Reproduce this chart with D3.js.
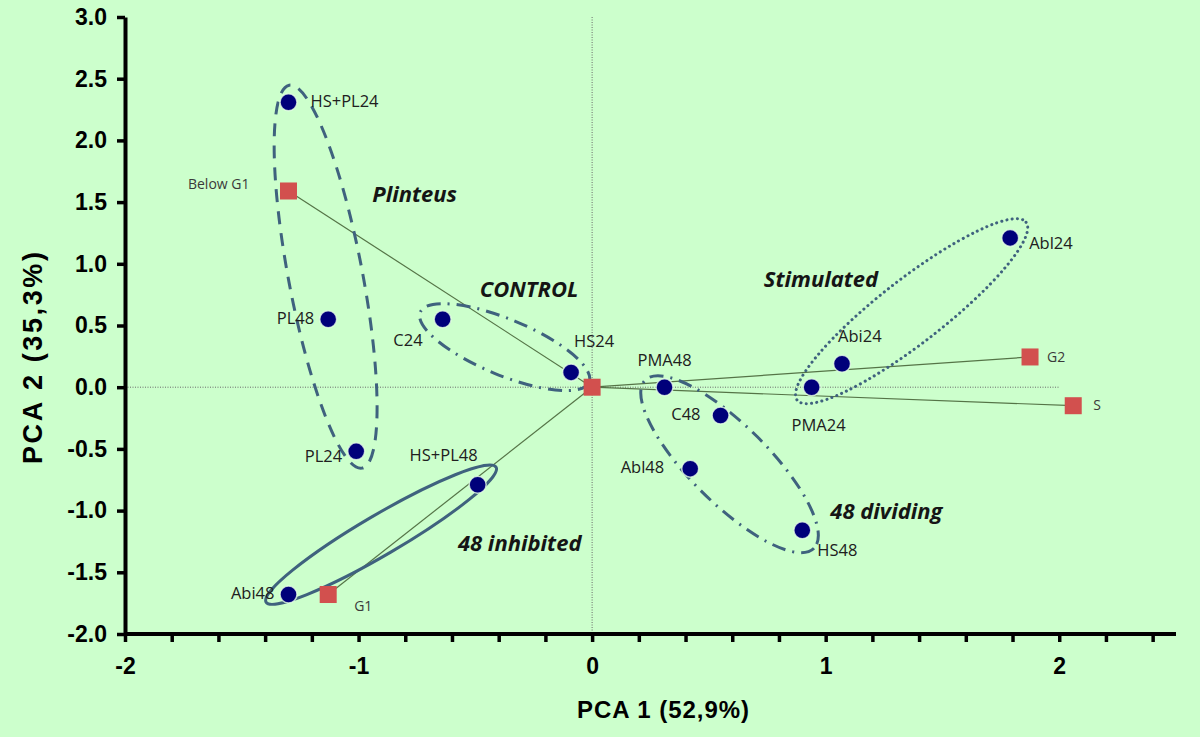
<!DOCTYPE html>
<html>
<head>
<meta charset="utf-8">
<script src="https://cdn.jsdelivr.net/npm/d3@7"></script>
<style>
  html, body { margin: 0; padding: 0; background: #ccffcc; }
  svg { display: block; }
</style>
</head>
<body>
<svg id="chart" width="1200" height="737"></svg>
<script>
// ---- data ----
const samples = ["HS+PL24","PL48","PL24","Abi48","C24","HS24","HS+PL48","PMA48","C48","Abl48","HS48","PMA24","Abi24","Abl24"];
const pc1 = [-1.30,-1.13,-1.01,-1.30,-0.64,-0.09,-0.49,0.31,0.55,0.42,0.90,0.94,1.07,1.79];
const pc2 = [2.31,0.55,-0.52,-1.68,0.55,0.12,-0.79,0.00,-0.23,-0.66,-1.16,0.00,0.19,1.21];

const variables = ["Below G1","G1","G2","S"];
const loadX = [-1.30,-1.13,1.875,2.06];
const loadY = [1.59,-1.68,0.245,-0.15];

const yTicks = [-2.0,-1.5,-1.0,-0.5,0.0,0.5,1.0,1.5,2.0,2.5,3.0];
const xTicks = [-2,-1.8,-1.6,-1.4,-1.2,-1,-0.8,-0.6,-0.4,-0.2,0,0.2,0.4,0.6,0.8,1,1.2,1.4,1.6,1.8,2,2.2,2.4];
const xLabels = [-2,-1,0,1,2];

const groupNames = ["Plinteus","CONTROL","48 inhibited","Stimulated","48 dividing"];
// group envelope: ends of the long axis in data units
const groupX1 = [-1.297,-0.736,-1.396,0.878,0.227];
const groupY1 = [2.447,0.608,-1.742,-0.105,0.057];
const groupX2 = [-0.985,-0.013,-0.411,1.858,0.950];
const groupY2 = [-0.656,0.041,-0.648,1.337,-1.305];

const xTitle = "PCA 1 (52,9%)";
const yTitle = "PCA 2 (35,3%)";

// ---- layout / style ----
const W = 1200, H = 737;
const x = d3.scaleLinear().domain([-2, 2.5]).range([125, 1176]);
const y = d3.scaleLinear().domain([-2, 3]).range([634, 17]);

const groupStyle = [
  {dash: "13,9", halfW: 37, cap: "butt", lx: -0.76, ly: 1.55},
  {dash: "14,7,2,7", halfW: 28, cap: "butt", lx: -0.27, ly: 0.78},
  {dash: null, halfW: 20, cap: "butt", lx: -0.31, ly: -1.28},
  {dash: "0.1,5.2", halfW: 32, cap: "round", lx: 0.98, ly: 0.86},
  {dash: "14,7,2,7", halfW: 39, cap: "butt", lx: 1.26, ly: -1.02}
];
// label placement for samples: [dx, dy, anchor]
const sampleLabelPos = {
  "HS+PL24": [22, 0, "start"], "PL48": [-14, 0, "end"], "PL24": [-14, 6, "end"],
  "Abi48": [-14, 0, "end"], "C24": [-20, 22, "end"], "HS24": [3, -30, "start"],
  "HS+PL48": [0, -28, "end"], "PMA48": [-27, -26, "start"], "C48": [-20, 0, "end"],
  "Abl48": [-26, 0, "end"], "HS48": [15, 21, "start"], "PMA24": [34, 39, "end"],
  "Abi24": [-4, -26, "start"], "Abl24": [19, 7, "start"]
};
const varLabelPos = {
  "Below G1": [-39, -6, "end"], "G1": [26, 13, "start"], "G2": [17, 1, "start"], "S": [20, 1, "start"]
};

const svg = d3.select("#chart");
svg.append("rect").attr("width", W).attr("height", H).attr("fill", "#ccffcc");

// reference lines
svg.append("line")
  .attr("x1", x(0)).attr("x2", x(0)).attr("y1", y(3)).attr("y2", y(-2))
  .attr("stroke", "#6a6a6a").attr("stroke-width", 1).attr("stroke-dasharray", "1,1.5");
svg.append("line")
  .attr("x1", x(-2)).attr("x2", x(2)).attr("y1", y(0)).attr("y2", y(0))
  .attr("stroke", "#6a6a6a").attr("stroke-width", 1).attr("stroke-dasharray", "1,1.5");

// vectors from origin
const vars = variables.map((v, i) => ({name: v, x: loadX[i], y: loadY[i]}));
svg.append("g").selectAll("line").data(vars).join("line")
  .attr("x1", x(0)).attr("y1", y(0))
  .attr("x2", d => x(d.x)).attr("y2", d => y(d.y))
  .attr("stroke", "#557447").attr("stroke-width", 1.2);

// group envelopes
const groups = groupNames.map((g, i) => ({name: g, x1: groupX1[i], y1: groupY1[i], x2: groupX2[i], y2: groupY2[i], st: groupStyle[i]}));
const eg = svg.append("g");
groups.forEach(g => {
  const px1 = x(g.x1), py1 = y(g.y1), px2 = x(g.x2), py2 = y(g.y2);
  const cx = (px1 + px2) / 2, cy = (py1 + py2) / 2;
  const a = Math.hypot(px2 - px1, py2 - py1) / 2;
  const ang = Math.atan2(py2 - py1, px2 - px1) * 180 / Math.PI;
  const e = eg.append("ellipse")
    .attr("cx", 0).attr("cy", 0).attr("rx", a).attr("ry", g.st.halfW)
    .attr("transform", `translate(${cx},${cy}) rotate(${ang})`)
    .attr("fill", "none").attr("stroke", "#3f627e")
    .attr("stroke-width", 3).attr("stroke-linecap", g.st.cap);
  if (g.st.dash) e.attr("stroke-dasharray", g.st.dash);
});

// group labels
svg.append("g").selectAll("text").data(groups).join("text")
  .attr("x", d => x(d.st.lx)).attr("y", d => y(d.st.ly))
  .attr("text-anchor", "middle").attr("dominant-baseline", "middle")
  .attr("font-family", "'Open Sans', sans-serif").attr("font-weight", "bold")
  .attr("font-style", "italic").attr("font-size", 22).attr("fill", "#151515")
  .text(d => d.name);

// axes
const yAxis = d3.axisLeft(y).tickValues(yTicks).tickFormat(d => d.toFixed(1)).tickSize(8).tickSizeOuter(0).tickPadding(10);
const gy = svg.append("g").attr("transform", `translate(${x(-2)},0)`).call(yAxis);
const xAxis = d3.axisBottom(x).tickValues(xTicks)
  .tickFormat(d => xLabels.some(v => Math.abs(v - d) < 1e-9) ? String(d) : "")
  .tickSize(8).tickSizeOuter(0).tickPadding(16);
const gx = svg.append("g").attr("transform", `translate(0,${y(-2)})`).call(xAxis);
gx.select(".domain").attr("d", `M${x(-2)},0H${x(2.5)}`);
[gx, gy].forEach(g => {
  g.select(".domain").attr("stroke", "#000").attr("stroke-width", 4);
  g.selectAll(".tick line").attr("stroke", "#000").attr("stroke-width", 3.5);
  g.selectAll(".tick text").attr("font-family", "'Liberation Sans', Arial, sans-serif")
    .attr("font-weight", "bold").attr("font-size", 23).attr("fill", "#000");
});

// axis titles
svg.append("text").attr("x", 663).attr("y", 718).attr("text-anchor", "middle")
  .attr("font-family", "'Liberation Sans', Arial, sans-serif").attr("font-weight", "bold")
  .attr("font-size", 24).attr("textLength", 172).attr("lengthAdjust", "spacing").attr("fill", "#000")
  .text(xTitle);
svg.append("text").attr("transform", "translate(42,358) rotate(-90)").attr("text-anchor", "middle")
  .attr("font-family", "'Liberation Sans', Arial, sans-serif").attr("font-weight", "bold")
  .attr("font-size", 27).attr("textLength", 212).attr("lengthAdjust", "spacing").attr("fill", "#000")
  .text(yTitle);

// variable squares (origin + loadings)
const sq = 17;
svg.append("rect").attr("x", x(0) - sq/2).attr("y", y(0) - sq/2).attr("width", sq).attr("height", sq)
  .attr("fill", "#d2504e");
svg.append("g").selectAll("rect").data(vars).join("rect")
  .attr("x", d => x(d.x) - sq/2).attr("y", d => y(d.y) - sq/2)
  .attr("width", sq).attr("height", sq).attr("fill", "#d2504e");
svg.append("g").selectAll("text").data(vars).join("text")
  .attr("x", d => x(d.x) + varLabelPos[d.name][0]).attr("y", d => y(d.y) + varLabelPos[d.name][1])
  .attr("text-anchor", d => varLabelPos[d.name][2]).attr("dominant-baseline", "middle")
  .attr("font-family", "'Open Sans', sans-serif").attr("font-size", 14).attr("fill", "#3a3a3a")
  .text(d => d.name);

// sample points
const pts = samples.map((s, i) => ({name: s, x: pc1[i], y: pc2[i]}));
svg.append("g").selectAll("circle").data(pts).join("circle")
  .attr("cx", d => x(d.x)).attr("cy", d => y(d.y)).attr("r", 8.5)
  .attr("fill", "#00007a").attr("stroke", "#e6ffe6").attr("stroke-width", 1.5).attr("stroke-opacity", 0.8);
svg.append("g").selectAll("text").data(pts).join("text")
  .attr("x", d => x(d.x) + sampleLabelPos[d.name][0]).attr("y", d => y(d.y) + sampleLabelPos[d.name][1])
  .attr("text-anchor", d => sampleLabelPos[d.name][2]).attr("dominant-baseline", "middle")
  .attr("font-family", "'Open Sans', sans-serif").attr("font-size", 16.5).attr("fill", "#202020")
  .text(d => d.name);
</script>
</body>
</html>
